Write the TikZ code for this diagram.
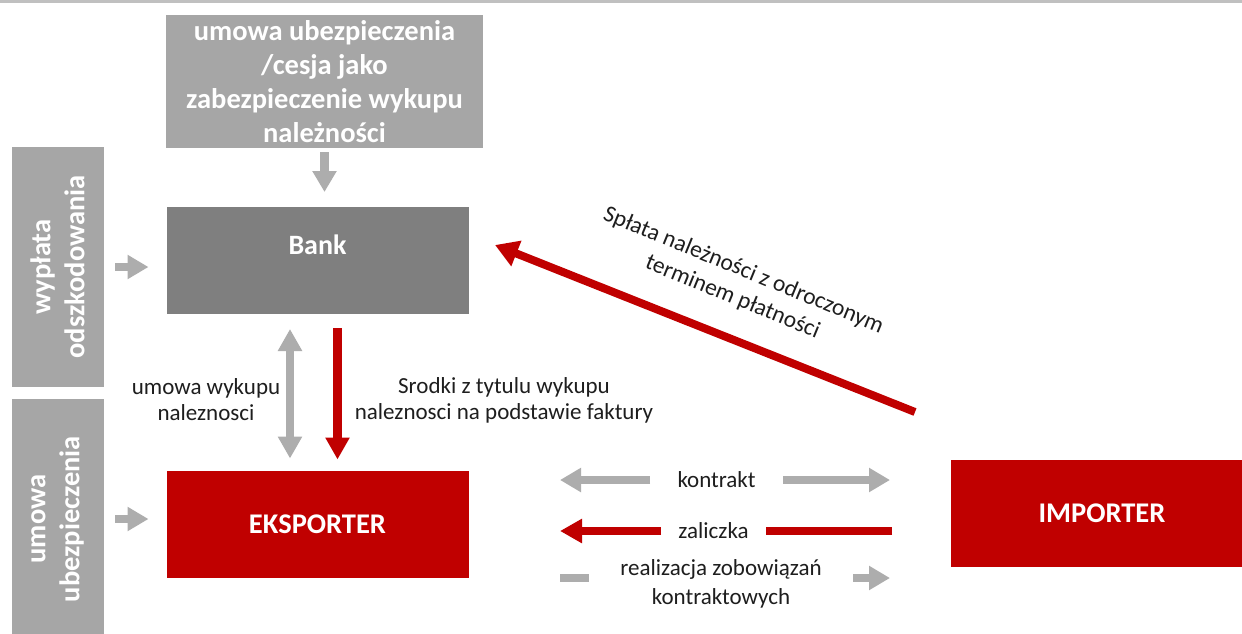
\documentclass[tikz,border=0pt]{standalone}
\usepackage{fontspec}
\setmainfont{Carlito}
\usetikzlibrary{arrows.meta}

\definecolor{brandred}{HTML}{C00000}
\definecolor{boxgray}{HTML}{A6A6A6}
\definecolor{bankgray}{HTML}{7F7F7F}
\definecolor{arrowgray}{HTML}{ADADAD}
\definecolor{rulegray}{HTML}{C0C0C0}
\definecolor{labeltext}{HTML}{1E1E1E}

\newcommand{\fsz}[2]{\fontsize{#1}{#2}\selectfont}

\begin{document}
\begin{tikzpicture}[x=1pt,y=-1pt,
  box/.style={inner sep=0pt, outer sep=0pt, text=white, align=center},
  graybox/.style={box, fill=boxgray},
  redbox/.style={box, fill=brandred, minimum width=302pt, minimum height=107pt, font=\bfseries\fsz{28.5}{34}},
  sidetext/.style={graybox, rotate=90, minimum height=92pt, font=\bfseries\fsz{28.5}{34}},
  lbl/.style={inner sep=0pt, outer sep=0pt, text=labeltext, align=center},
  gshaft/.style={draw=arrowgray, line width=8.5pt},
  garrow/.style={gshaft, -{Triangle[width=23pt,length=21pt]}},
  gboth/.style={gshaft, {Triangle[width=23pt,length=22pt]}-{Triangle[width=23pt,length=22pt]}},
  rshaft/.style={draw=brandred, line width=8.5pt},
  rarrow/.style={rshaft, -{Triangle[width=23pt,length=22pt]}},
]
\clip (0,0) rectangle (1242,633);
\fill[white] (0,0) rectangle (1242,633);

% rule along the top edge
\draw[rulegray, line width=3pt] (0,1.5) -- (1242,1.5);

% boxes
\node[graybox, minimum width=317pt, minimum height=133pt, font=\bfseries\fsz{28.5}{34}] (top) at (324.5,81.5)
  {umowa ubezpieczenia\\/cesja jako\\zabezpieczenie wykupu\\należności};
\node[box, fill=bankgray, minimum width=302pt, minimum height=107pt,
  label={[text=white, font=\bfseries\fsz{28}{34}, anchor=center, yshift=-38pt]north:Bank}] (bank) at (317.5,260.5) {};
\node[sidetext, minimum width=240pt] (odsz) at (57.5,267) {wypłata\\odszkodowania};
\node[sidetext, minimum width=240pt] (ubezp) at (57.5,519) {umowa\\ubezpieczenia};
\node[redbox] (eks) at (317.5,524) {EKSPORTER};
\node[redbox] (imp) at (1102,513) {IMPORTER};

% arrows into the bank and the exporter
\draw[garrow, shorten <=4pt, shorten >=15pt] (top.south) -- (top.south |- bank.north);
\draw[garrow, shorten <=11.5pt, shorten >=18pt] (odsz.south) -- (odsz.south -| bank.west);
\draw[garrow, shorten <=11.5pt, shorten >=18pt] (ubezp.south) -- (ubezp.south -| eks.west);

% bank <-> exporter
\draw[gboth, shorten <=15pt, shorten >=12pt] ([xshift=-27.5pt]bank.south) -- ([xshift=-27.5pt]eks.north);
\draw[rarrow, shorten <=14pt, shorten >=11pt] ([xshift=20pt]bank.south) -- ([xshift=20pt]eks.north);
\node[lbl, font=\fsz{23}{26}] (wyk) at (206,400) {umowa wykupu\\naleznosci};
\node[lbl, font=\fsz{23}{26}] (srodki) at (504,400) {Srodki z tytulu wykupu\\naleznosci na podstawie faktury};

% repayment from the importer to the bank
\coordinate (payfrom) at (915,412);
\coordinate (payto) at (495,245);
\draw[rarrow, line width=8pt, -{Triangle[width=26pt,length=23pt]}] (payfrom) -- (payto);
\node[lbl, rotate=-22.3, font=\fsz{23.5}{29}] (splata) at (738,284)
  {Spłata należności z odroczonym\\terminem płatności};

% exporter <-> importer flows
\coordinate (left) at (560,0);
\coordinate (right) at (890,0);

\node[lbl, minimum width=133pt, font=\fsz{23}{27}] (kontrakt) at (716.5,480) {kontrakt};
\draw[garrow] (kontrakt.west) -- (kontrakt.west -| left);
\draw[garrow] (kontrakt.east) -- (kontrakt.east -| right);

\node[lbl, minimum width=105pt, font=\fsz{23}{27}] (zaliczka) at (713.5,531) {zaliczka};
\draw[rshaft, line width=8pt] ([xshift=2pt]zaliczka.east -| right) -- (zaliczka.east);
\draw[rarrow, line width=8pt] (zaliczka.west) -- (zaliczka.west -| left);

\coordinate (realrow) at (0,578);
\node[lbl, minimum width=264pt, font=\fsz{23}{29}] (realizacja) at (721,584)
  {realizacja zobowiązań\\kontraktowych};
\draw[gshaft] (realrow -| left) -- (realrow -| realizacja.west);
\draw[garrow] (realrow -| realizacja.east) -- (realrow -| right);
\end{tikzpicture}
\end{document}
